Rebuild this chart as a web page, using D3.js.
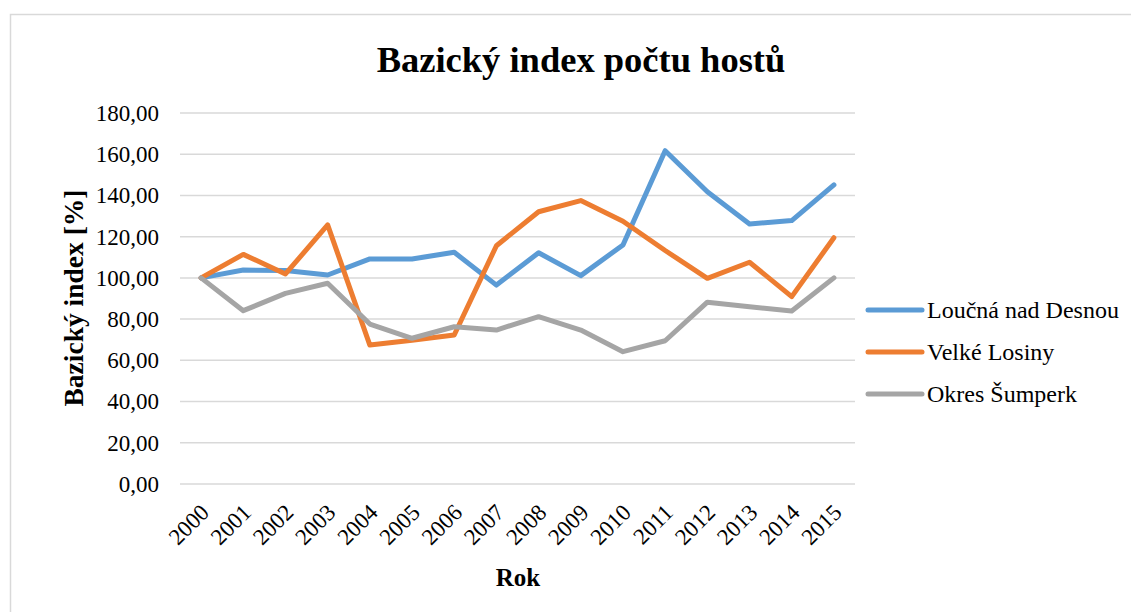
<!DOCTYPE html>
<html>
<head>
<meta charset="utf-8">
<script src="https://cdn.jsdelivr.net/npm/d3@7"></script>
<style>
  body { margin: 0; background: #fff; }
  svg { display: block; font-family: "Liberation Serif", "Times New Roman", serif; }
</style>
</head>
<body>
<div id="chart"></div>
<script>
// Bazický index počtu hostů, 2000 = 100
const years = ["2000", "2001", "2002", "2003", "2004", "2005", "2006", "2007",
  "2008", "2009", "2010", "2011", "2012", "2013", "2014", "2015"]

const loucna = [100, 103.8, 103.6, 101.4, 109.2, 109.2, 112.4, 96.5,
  112.2, 101.1, 116, 161.7, 141.8, 126.2, 127.8, 145.1]
const velkeLosiny = [100, 111.4, 101.9, 125.7, 67.4, 69.7, 72.3, 115.6,
  132.1, 137.5, 127.5, 113.3, 99.8, 107.6, 90.9, 119.5]
const sumperk = [100, 84.1, 92.5, 97.4, 77.6, 70.7, 76.3, 74.7,
  81.2, 74.7, 64.2, 69.5, 88.2, 86, 83.9, 100]

const seriesNames = ["Loučná nad Desnou", "Velké Losiny", "Okres Šumperk"]
const seriesColors = ["#5b9bd5", "#ed7d31", "#a5a5a5"]
const yTicks = [0, 20, 40, 60, 80, 100, 120, 140, 160, 180]

const series = [loucna, velkeLosiny, sumperk].map((values, i) => ({
  name: seriesNames[i],
  color: seriesColors[i],
  values
}))

const width = 1131
const height = 612
const margin = { top: 113, right: 276, bottom: 128, left: 180 }
const innerW = width - margin.left - margin.right
const innerH = height - margin.top - margin.bottom

const root = d3.select("#chart")
  .append("svg")
  .attr("width", width)
  .attr("height", height)

// chart area frame
root.append("rect")
  .attr("x", 10.5)
  .attr("y", 14.5)
  .attr("width", width + 10)
  .attr("height", height + 10)
  .attr("fill", "none")
  .attr("stroke", "#d9d9d9")
  .attr("stroke-width", 1.5)

const svg = root.append("g")
  .attr("transform", `translate(${margin.left},${margin.top})`)

const x = d3.scalePoint()
  .domain(years)
  .range([0, innerW])
  .padding(0.5)

const y = d3.scaleLinear()
  .domain([0, 180])
  .range([innerH, 0])

// gridlines
svg.append("g")
  .selectAll("line")
  .data(yTicks)
  .join("line")
  .attr("x1", 0)
  .attr("x2", innerW)
  .attr("y1", d => y(d))
  .attr("y2", d => y(d))
  .attr("stroke", "#d9d9d9")
  .attr("stroke-width", 1.5)

// y axis labels
const yAxis = d3.axisLeft(y)
  .tickValues(yTicks)
  .tickSize(0)
  .tickPadding(21)
  .tickFormat(d => d3.format(".2f")(d).replace(".", ","))

svg.append("g")
  .call(yAxis)
  .call(g => g.select(".domain").remove())
  .selectAll("text")
  .attr("font-family", "Liberation Serif")
  .attr("font-size", "23px")
  .attr("fill", "#000")

// x axis labels, rotated
const xAxis = d3.axisBottom(x).tickSize(0)

svg.append("g")
  .attr("transform", `translate(0,${innerH})`)
  .call(xAxis)
  .call(g => g.select(".domain").remove())
  .selectAll("text")
  .attr("font-family", "Liberation Serif")
  .attr("font-size", "23px")
  .attr("fill", "#000")
  .attr("text-anchor", "end")
  .attr("dy", "0.35em")
  .attr("transform", "translate(1,22) rotate(-45)")

// lines
const line = d3.line()
  .x((d, i) => x(years[i]))
  .y(d => y(d))

svg.selectAll(".series")
  .data(series)
  .join("path")
  .attr("class", "series")
  .attr("d", d => line(d.values))
  .attr("fill", "none")
  .attr("stroke", d => d.color)
  .attr("stroke-width", 5)
  .attr("stroke-linejoin", "round")
  .attr("stroke-linecap", "round")

// title
root.append("text")
  .attr("x", 581)
  .attr("y", 72)
  .attr("text-anchor", "middle")
  .attr("font-size", "36.5px")
  .attr("font-weight", "bold")
  .text("Bazický index počtu hostů")

// axis titles
root.append("text")
  .attr("transform", "translate(83,298) rotate(-90)")
  .attr("text-anchor", "middle")
  .attr("font-size", "27.5px")
  .attr("font-weight", "bold")
  .text("Bazický index [%]")

root.append("text")
  .attr("x", 518)
  .attr("y", 586)
  .attr("text-anchor", "middle")
  .attr("font-size", "25px")
  .attr("font-weight", "bold")
  .text("Rok")

// legend
const legend = root.append("g")
  .attr("transform", "translate(868,310)")

const item = legend.selectAll("g")
  .data(series)
  .join("g")
  .attr("transform", (d, i) => `translate(0,${i * 42})`)

item.append("line")
  .attr("x1", 0)
  .attr("x2", 54)
  .attr("stroke", d => d.color)
  .attr("stroke-width", 5)
  .attr("stroke-linecap", "round")

item.append("text")
  .attr("x", 59)
  .attr("dy", "0.35em")
  .attr("font-size", "24px")
  .text(d => d.name)
</script>
</body>
</html>
